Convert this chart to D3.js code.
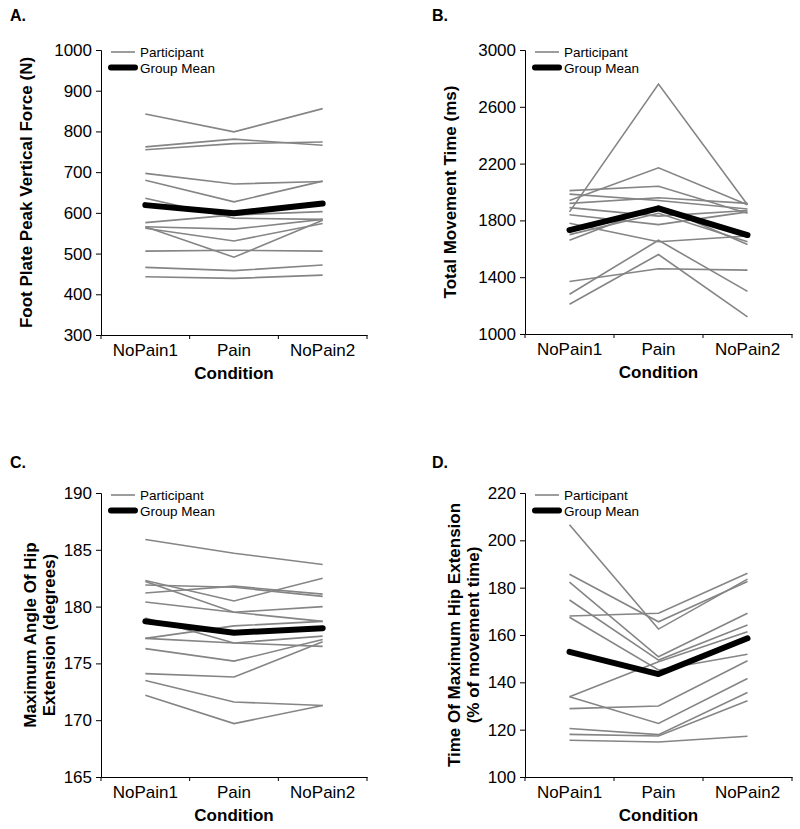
<!DOCTYPE html>
<html>
<head>
<meta charset="utf-8">
<script src="https://cdn.jsdelivr.net/npm/d3@7"></script>
<style>
  html, body { margin: 0; padding: 0; background: #fff; }
  svg { display: block; font-family: "Liberation Sans", Arial, sans-serif; }
</style>
</head>
<body>
<svg id="chart" width="800" height="829"></svg>
<script>
// ---------- DATA ----------
const conditions = ["NoPain1", "Pain", "NoPain2"];

// Panel A: Foot plate peak vertical force (N)
const forceTicks = [300, 400, 500, 600, 700, 800, 900, 1000];
const forceParticipants = [
  [843, 799, 856],
  [762, 781, 766],
  [755, 770, 774],
  [697, 671, 677],
  [680, 627, 678],
  [636, 587, 584],
  [576, 595, 603],
  [566, 560, 584],
  [562, 531, 574],
  [566, 491, 582],
  [506, 508, 506],
  [466, 458, 472],
  [443, 439, 447]
];
const forceMean = [619, 599, 623];

// Panel B: Total movement time (ms)
const timeTicks = [1000, 1400, 1800, 2200, 2600, 3000];
const timeParticipants = [
  [1860, 2760, 1910],
  [1940, 2170, 1910],
  [2010, 2040, 1850],
  [1985, 1940, 1880],
  [1920, 1960, 1920],
  [1890, 1830, 1870],
  [1840, 1770, 1860],
  [1780, 1650, 1690],
  [1700, 1850, 1650],
  [1660, 1900, 1630],
  [1370, 1460, 1450],
  [1280, 1660, 1300],
  [1210, 1560, 1120]
];
const timeMean = [1732, 1885, 1697];

// Panel C: Maximum angle of hip extension (degrees)
const angleTicks = [165, 170, 175, 180, 185, 190];
const angleParticipants = [
  [185.9, 184.7, 183.7],
  [182.3, 180.5, 182.5],
  [182.2, 179.5, 178.7],
  [181.9, 181.7, 180.9],
  [181.2, 181.8, 181.1],
  [180.4, 179.5, 180.0],
  [179.0, 176.8, 176.5],
  [177.2, 178.3, 178.7],
  [177.2, 176.8, 177.4],
  [176.3, 175.2, 177.1],
  [174.1, 173.8, 176.9],
  [173.5, 171.6, 171.3],
  [172.2, 169.7, 171.3]
];
const angleMean = [178.7, 177.7, 178.1];

// Panel D: Time of maximum hip extension (% of movement time)
const pctTicks = [100, 120, 140, 160, 180, 200, 220];
const pctParticipants = [
  [206.6, 162.5, 183.6],
  [185.7, 165.6, 182.6],
  [182.3, 150.8, 169.2],
  [174.8, 149.4, 164.2],
  [168.0, 169.2, 186.1],
  [167.5, 145.2, 151.9],
  [133.9, 148.7, 161.4],
  [133.9, 122.6, 141.6],
  [128.9, 130.0, 149.1],
  [120.5, 117.9, 135.7],
  [118.0, 117.3, 132.2],
  [115.5, 114.8, 117.2]
];
const pctMean = [152.9, 143.5, 158.6];

// ---------- DRAW ----------
const svg = d3.select("#chart");

function drawPanel(cfg) {
  const g = svg.append("g");
  const x = d3.scaleBand().domain(conditions).range([cfg.left, cfg.right]);
  const y = d3.scaleLinear().domain([cfg.ticks[0], cfg.ticks[cfg.ticks.length - 1]])
    .range([cfg.bottom, cfg.top]);

  // panel letter
  g.append("text").attr("x", cfg.letterX).attr("y", cfg.letterY)
    .attr("font-size", 16).attr("font-weight", "bold").text(cfg.letter);

  // axes
  const yAxis = d3.axisLeft(y).tickValues(cfg.ticks).tickFormat(d3.format("d"))
    .tickSize(5).tickPadding(4);
  const ya = g.append("g").attr("transform", `translate(${cfg.left},0)`).call(yAxis);
  ya.selectAll("text").attr("font-size", 17).attr("fill", "#000")
    .attr("font-family", "Liberation Sans, Arial, sans-serif");
  ya.selectAll("line, path").attr("stroke", "#000");

  const xAxis = d3.axisBottom(x).tickSize(0).tickPadding(9);
  const xa = g.append("g").attr("transform", `translate(0,${cfg.bottom})`).call(xAxis);
  xa.selectAll("text").attr("font-size", 17).attr("fill", "#000")
    .attr("font-family", "Liberation Sans, Arial, sans-serif");
  xa.select(".domain").attr("stroke", "#000");
  // ticks between categories
  const bounds = conditions.map(c => x(c)).concat([x(conditions[2]) + x.bandwidth()]);
  g.selectAll(".xtick").data(bounds).join("line")
    .attr("x1", d => d).attr("x2", d => d)
    .attr("y1", cfg.bottom).attr("y2", cfg.bottom + 4)
    .attr("stroke", "#000");

  // x title
  g.append("text").attr("x", (cfg.left + cfg.right) / 2).attr("y", cfg.bottom + 44)
    .attr("text-anchor", "middle").attr("font-size", 17).attr("font-weight", "bold")
    .text("Condition");

  // y title (one or two lines)
  const cy = (cfg.top + cfg.bottom) / 2;
  cfg.yTitle.forEach((t, i) => {
    g.append("text")
      .attr("transform", `translate(${cfg.yTitleX + i * 19},${cy}) rotate(-90)`)
      .attr("text-anchor", "middle").attr("font-size", 17).attr("font-weight", "bold")
      .text(t);
  });

  const cx = d => x(d) + x.bandwidth() / 2;
  const line = d3.line().x((d, i) => cx(conditions[i])).y(d => y(d));

  g.append("g").selectAll("path").data(cfg.participants).join("path")
    .attr("d", line).attr("fill", "none").attr("stroke", "#858585")
    .attr("stroke-width", 1.6);

  g.append("path").datum(cfg.mean).attr("d", line).attr("fill", "none")
    .attr("stroke", "#000").attr("stroke-width", 6).attr("stroke-linecap", "round")
    .attr("stroke-linejoin", "round");

  // legend
  const lx = cfg.left + 8, ly = cfg.top + cfg.legendDy;
  g.append("line").attr("x1", lx + 2).attr("x2", lx + 26).attr("y1", ly).attr("y2", ly)
    .attr("stroke", "#858585").attr("stroke-width", 1.6);
  g.append("text").attr("x", lx + 31).attr("y", ly + 5).attr("font-size", 13.5).text("Participant");
  g.append("line").attr("x1", lx + 2).attr("x2", lx + 26).attr("y1", ly + 15.5).attr("y2", ly + 15.5)
    .attr("stroke", "#000").attr("stroke-width", 6).attr("stroke-linecap", "round");
  g.append("text").attr("x", lx + 31).attr("y", ly + 20.5).attr("font-size", 13.5).text("Group Mean");
}

drawPanel({
  letter: "A.", letterX: 10, letterY: 21,
  left: 101, right: 367, top: 50, bottom: 335,
  ticks: forceTicks, participants: forceParticipants, mean: forceMean,
  yTitle: ["Foot Plate Peak Vertical Force (N)"], yTitleX: 32, legendDy: 2
});
drawPanel({
  letter: "B.", letterX: 432, letterY: 21,
  left: 525, right: 792, top: 50, bottom: 334,
  ticks: timeTicks, participants: timeParticipants, mean: timeMean,
  yTitle: ["Total Movement Time (ms)"], yTitleX: 456, legendDy: 2
});
drawPanel({
  letter: "C.", letterX: 10, letterY: 468,
  left: 101, right: 367, top: 493, bottom: 777,
  ticks: angleTicks, participants: angleParticipants, mean: angleMean,
  yTitle: ["Maximum Angle Of Hip", "Extension (degrees)"], yTitleX: 36, legendDy: 2
});
drawPanel({
  letter: "D.", letterX: 432, letterY: 468,
  left: 525, right: 792, top: 493, bottom: 777,
  ticks: pctTicks, participants: pctParticipants, mean: pctMean,
  yTitle: ["Time Of Maximum Hip Extension", "(% of movement time)"], yTitleX: 460, legendDy: 2
});
</script>
</body>
</html>
